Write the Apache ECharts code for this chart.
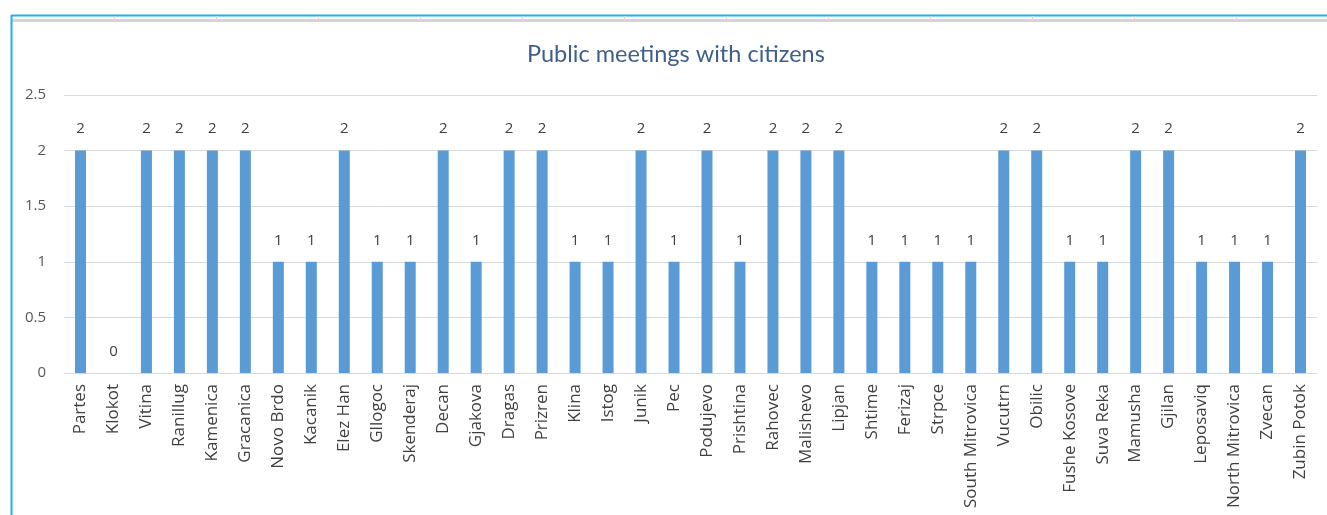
<!DOCTYPE html>
<html>
<head>
<meta charset="utf-8">
<script src="https://cdn.jsdelivr.net/npm/echarts@6/dist/echarts.min.js"></script>
<style>
html,body{margin:0;padding:0;background:#fff;}
#c{width:1327px;height:515px;}
</style>
</head>
<body>
<div id="c"></div>
<script>
var title = 'Public meetings with citizens';
var categories = ['Partes','Klokot','Vitina','Ranillug','Kamenica','Gracanica','Novo Brdo','Kacanik','Elez Han','Gllogoc','Skenderaj','Decan','Gjakova','Dragas','Prizren','Klina','Istog','Junik','Pec','Podujevo','Prishtina','Rahovec','Malishevo','Lipjan','Shtime','Ferizaj','Strpce','South Mitrovica','Vucutrn','Obilic','Fushe Kosove','Suva Reka','Mamusha','Gjilan','Leposaviq','North Mitrovica','Zvecan','Zubin Potok'];
var meetings = [2,0,2,2,2,2,1,1,2,1,1,2,1,2,2,1,1,2,1,2,1,2,2,2,1,1,1,1,2,2,1,1,2,2,1,1,1,2];
var yTicks = [0,0.5,1,1.5,2,2.5];

var colTicks = [114,216,318,420,522,624,726,828,930,1032,1134,1236];
var graphics = [
  {type:'rect', shape:{x:12,y:19,width:1315,height:3}, style:{fill:'#d4d4d4'}, silent:true},
  {type:'line', shape:{x1:11,y1:15.5,x2:1327,y2:15.5}, style:{stroke:'#22b0ee',lineWidth:2}, silent:true},
  {type:'line', shape:{x1:11.5,y1:15,x2:11.5,y2:515}, style:{stroke:'#22b0ee',lineWidth:2}, silent:true}
];
colTicks.forEach(function(x){
  graphics.push({type:'line', shape:{x1:x+0.5,y1:16,x2:x+0.5,y2:20}, style:{stroke:'#d8d8d8',lineWidth:1}, silent:true});
});

var chart = echarts.init(document.getElementById('c'), null, {renderer:'canvas'});
chart.setOption({
  animation:false,
  backgroundColor:'#fff',
  title:{
    text:title, left:522, top:37,
    textStyle:{fontFamily:'Lato', fontSize:23.5, fontWeight:'normal', color:'#3e5f8a'}
  },
  grid:{left:64, right:10, top:95, bottom:142, containLabel:false},
  xAxis:{
    type:'category', data:categories,
    axisLine:{show:true, lineStyle:{color:'#d9d9d9', width:1}},
    axisTick:{show:false},
    axisLabel:{interval:0, rotate:90, margin:11, fontFamily:'Open Sans', fontSize:17, color:'#404040'}
  },
  yAxis:{
    type:'value', min:0, max:2.5, interval:0.5,
    axisLine:{show:false}, axisTick:{show:false},
    splitLine:{lineStyle:{color:'#d9d9d9', width:1}},
    axisLabel:{margin:18, fontFamily:'Open Sans', fontSize:15, color:'#595959',
      formatter:function(v){ return String(v); }}
  },
  series:[{
    type:'bar', data:meetings, barWidth:11,
    itemStyle:{color:'#5b9bd5'},
    label:{show:true, position:'top', distance:14, fontFamily:'Open Sans', fontSize:15, color:'#404040'}
  }],
  graphic:graphics
});
</script>
</body>
</html>
